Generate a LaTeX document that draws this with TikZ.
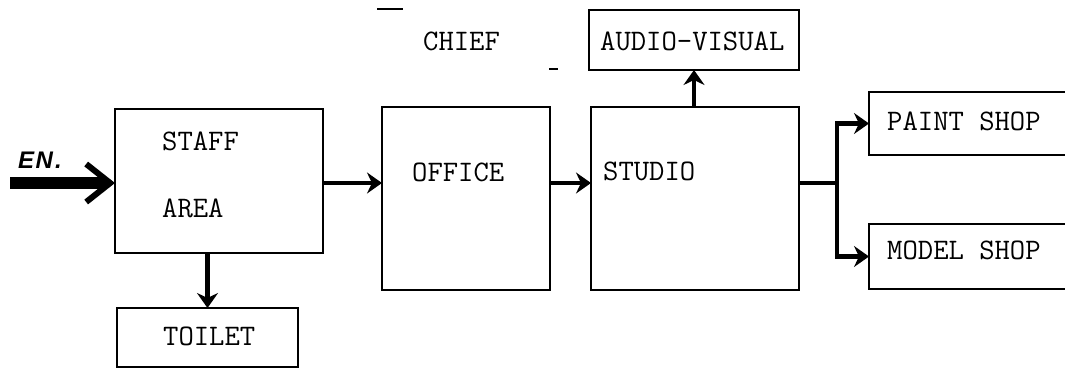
\documentclass[tikz,border=0pt]{standalone}
\usepackage{fontspec}
\newfontfamily\enfont{Liberation Sans}
\usetikzlibrary{arrows.meta,positioning,calc}

\tikzset{
  box/.style={draw, line width=2pt, inner sep=0pt, outer sep=0pt},
  lbl/.style={anchor=base west, inner sep=0pt, font=\fontsize{29.8}{36}\selectfont\ttfamily},
  flow/.style={line width=4.5pt, -{Stealth[length=15pt,width=21pt,inset=5pt]}},
  link/.style={line width=4.5pt},
}

\begin{document}
\begin{tikzpicture}[x=1pt,y=-1pt]
\useasboundingbox (0,0) rectangle (1065,373);

% rooms
\node[box, minimum width=208pt, minimum height=144pt] (staff) at (219,181) {};
\node[box, minimum width=168pt, minimum height=183pt] (office) at (466,198.5) {};
\node[box, minimum width=208pt, minimum height=183pt] (studio) at (695,198.5) {};
\node[box, minimum width=210pt, minimum height=60pt] (av) at (694,40) {};
\node[box, minimum width=260pt, minimum height=63pt] (paint) at (999,123.5) {};
\node[box, minimum width=260pt, minimum height=65pt] (model) at (999,256.5) {};
\node[box, minimum width=181pt, minimum height=59pt] (toilet) at (207.5,337.5) {};

% labels
\node[lbl] (stafft) at (162,150) {STAFF};
\node[lbl] (areat) at (162,217) {AREA};
\node[lbl] (officet) at (412,181) {OFFICE};
\node[lbl] (studiot) at (603,180) {STUDIO};
\node[lbl] (chieft) at (423,50) {CHIEF};
\node[lbl] (avt) at (600,50) {AUDIO-VISUAL};
\node[lbl] (paintt) at (887,130) {PAINT SHOP};
\node[lbl] (modelt) at (887,259) {MODEL SHOP};
\node[lbl] (toilett) at (163,345) {TOILET};
\node[anchor=base west, inner sep=0pt, font=\enfont\bfseries\itshape\fontsize{24}{28}\selectfont] (en) at (18,168) {E\kern1.5pt N\kern2pt.};

% entrance
\coordinate (enstart) at (10,183);
\draw[line width=12pt, -{Straight Barb[length=24pt,width=38pt,line width=6pt]}] (enstart) -- (enstart -| staff.west);

% flow
\draw[flow] (staff.east |- enstart) -- (office.west |- enstart);
\draw[flow] (office.east |- enstart) -- (studio.west |- enstart);
\draw[flow] (av.south |- studio.north) -- (av.south);
\draw[flow] (toilet.north |- staff.south) -- (toilet.north);
\coordinate (split) at (837,183);
\draw[link] (studio.east |- split) -- (split);
\draw[flow] (split) |- (paint.west);
\draw[flow] (split) |- (model.west);

% marks
\draw[line width=1.5pt] (377,9) -- (403,9);
\draw[line width=1.5pt] (549,69) -- (558,69);
\end{tikzpicture}
\end{document}
